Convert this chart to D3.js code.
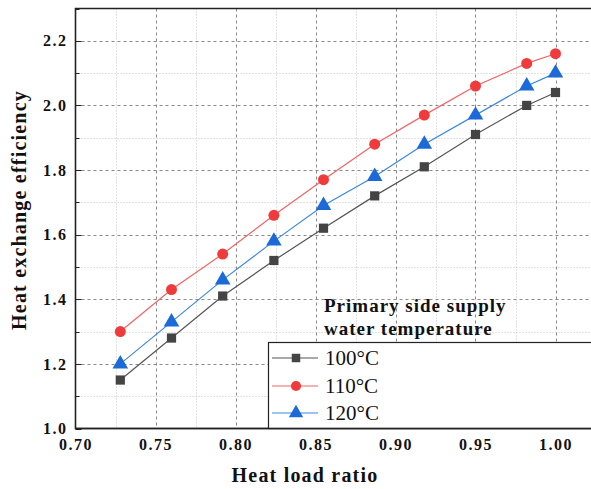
<!DOCTYPE html>
<html>
<head>
<meta charset="utf-8">
<script src="https://cdn.jsdelivr.net/npm/d3@7"></script>
<style>
  body { margin: 0; background: #fff; }
  svg { display: block; }
  svg text { font-family: "Liberation Serif", "DejaVu Serif", serif; fill: #111; }
</style>
</head>
<body>
<div id="chart"></div>
<script>
const width = 591
const height = 489
const margin = { top: 8.5, left: 75.5, bottom: 60.5 }

// data
const loadRatio = [0.728, 0.760, 0.792, 0.824, 0.855, 0.887, 0.918, 0.950, 0.982, 1.000]
const eff100 = [1.15, 1.28, 1.41, 1.52, 1.62, 1.72, 1.81, 1.91, 2.00, 2.04]
const eff110 = [1.30, 1.43, 1.54, 1.66, 1.77, 1.88, 1.97, 2.06, 2.13, 2.16]
const eff120 = [1.20, 1.33, 1.46, 1.58, 1.69, 1.78, 1.88, 1.97, 2.06, 2.10]
const seriesNames = ['100°C', '110°C', '120°C']
const xTicks = [0.70, 0.75, 0.80, 0.85, 0.90, 0.95, 1.00]
const yTicks = [1.0, 1.2, 1.4, 1.6, 1.8, 2.0, 2.2]

const series = [
    { name: seriesNames[0], values: eff100, line: '#555555', fill: '#444444', symbol: d3.symbolSquare, size: 85 },
    { name: seriesNames[1], values: eff110, line: '#f26464', fill: '#ef3b3b', symbol: d3.symbolCircle, size: 95 },
    { name: seriesNames[2], values: eff120, line: '#3d87e0', fill: '#1c6ad8', symbol: d3.symbolTriangle, size: 105 }
]

const x0 = margin.left
const yBottom = height - margin.bottom
const xScale = d3.scaleLinear().domain([0.70, 1.00]).range([x0, x0 + 480])
const yScale = d3.scaleLinear().domain([1.0, 2.3]).range([yBottom, margin.top])
const xRight = xScale(1.03)

const svg = d3.select('#chart').append('svg')
    .attr('width', width)
    .attr('height', height)

// grid
const grid = svg.append('g')
const minorX = d3.range(0.725, 1.03, 0.05)
const minorY = d3.range(1.1, 2.3, 0.2)
grid.selectAll('.minx').data(minorX).join('line')
    .attr('x1', d => Math.round(xScale(d)) + 0.5).attr('x2', d => Math.round(xScale(d)) + 0.5)
    .attr('y1', margin.top).attr('y2', yBottom)
    .attr('stroke', '#c4c4c4').attr('stroke-dasharray', '1,2')
grid.selectAll('.miny').data(minorY).join('line')
    .attr('x1', x0).attr('x2', xRight)
    .attr('y1', d => Math.round(yScale(d)) + 0.5).attr('y2', d => Math.round(yScale(d)) + 0.5)
    .attr('stroke', '#c4c4c4').attr('stroke-dasharray', '1,2')
grid.selectAll('.majx').data(xTicks.slice(1)).join('line')
    .attr('x1', d => Math.round(xScale(d)) + 0.5).attr('x2', d => Math.round(xScale(d)) + 0.5)
    .attr('y1', margin.top).attr('y2', yBottom)
    .attr('stroke', '#8a8a8a').attr('stroke-dasharray', '3,3')
grid.selectAll('.majy').data(yTicks.slice(1)).join('line')
    .attr('x1', x0).attr('x2', xRight)
    .attr('y1', d => Math.round(yScale(d)) + 0.5).attr('y2', d => Math.round(yScale(d)) + 0.5)
    .attr('stroke', '#8a8a8a').attr('stroke-dasharray', '3,3')

// series
const line = d3.line().x((d, i) => xScale(loadRatio[i])).y(d => yScale(d))
series.forEach(s => {
    svg.append('path')
        .attr('d', line(s.values))
        .attr('fill', 'none')
        .attr('stroke', s.line)
        .attr('stroke-width', 1.2)
    svg.selectAll(null).data(s.values).join('path')
        .attr('transform', (d, i) => `translate(${xScale(loadRatio[i])},${yScale(d)})`)
        .attr('d', d3.symbol().type(s.symbol).size(s.size))
        .attr('fill', s.fill)
})

// axes
const xAxis = svg.append('g')
    .attr('transform', `translate(0,${yBottom})`)
    .call(d3.axisBottom(xScale).tickValues(xTicks).tickFormat(d3.format('.2f')).tickSize(0).tickPadding(10))
xAxis.select('.domain').remove()
xAxis.selectAll('text')
    .style('font-size', '16px').style('font-weight', 'bold').style('letter-spacing', '1.5px')

const yAxis = svg.append('g')
    .attr('transform', `translate(${x0},0)`)
    .call(d3.axisLeft(yScale).tickValues(yTicks).tickFormat(d3.format('.1f')).tickSize(0).tickPadding(8))
yAxis.select('.domain').remove()
yAxis.selectAll('text')
    .style('font-size', '16px').style('font-weight', 'bold').style('letter-spacing', '1.5px')

// inward ticks
svg.selectAll('.ytk').data(yScale.ticks(13)).join('line')
    .attr('x1', x0).attr('x2', (d, i) => x0 + (i % 2 === 0 ? 6 : 4))
    .attr('y1', d => Math.round(yScale(d)) + 0.5).attr('y2', d => Math.round(yScale(d)) + 0.5)
    .attr('stroke', '#222')

// frame
svg.append('path')
    .attr('d', `M${xRight},${margin.top}H${x0}V${yBottom}H${xRight}`)
    .attr('fill', 'none').attr('stroke', '#222').attr('stroke-width', 1.6)

// legend
const lg = svg.append('g')
lg.append('text').attr('x', 324).attr('y', 312)
    .style('font-size', '19px').style('font-weight', 'bold').style('letter-spacing', '1px')
    .text('Primary side supply')
lg.append('text').attr('x', 324).attr('y', 335)
    .style('font-size', '19px').style('font-weight', 'bold').style('letter-spacing', '1px')
    .text('water temperature')
lg.append('rect')
    .attr('x', 268.5).attr('y', 342.5).attr('width', 340).attr('height', yBottom - 342.5)
    .attr('fill', '#fff').attr('stroke', '#222').attr('stroke-width', 1.2)
const legY = [358, 386, 413]
series.forEach((s, i) => {
    const g = lg.append('g').attr('transform', `translate(0,${legY[i]})`)
    g.append('line').attr('x1', 272).attr('x2', 318).attr('stroke', s.line).attr('stroke-width', 1.2)
    g.append('path').attr('transform', 'translate(296,0)')
        .attr('d', d3.symbol().type(s.symbol).size(s.size * 0.85)).attr('fill', s.fill)
    g.append('text').attr('x', 325).attr('dy', '0.35em')
        .style('font-size', '21px')
        .text(s.name)
})
// bottom axis line over legend box
svg.append('line').attr('x1', x0).attr('x2', xRight).attr('y1', yBottom).attr('y2', yBottom)
    .attr('stroke', '#222').attr('stroke-width', 1.6)

// axis titles
svg.append('text')
    .attr('x', 305).attr('y', 482).attr('text-anchor', 'middle')
    .style('font-size', '20px').style('font-weight', 'bold').style('letter-spacing', '1.2px')
    .text('Heat load ratio')
svg.append('text')
    .attr('transform', 'translate(26,210) rotate(-90)').attr('text-anchor', 'middle')
    .style('font-size', '20px').style('font-weight', 'bold').style('letter-spacing', '1.2px')
    .text('Heat exchange efficiency')
</script>
</body>
</html>
